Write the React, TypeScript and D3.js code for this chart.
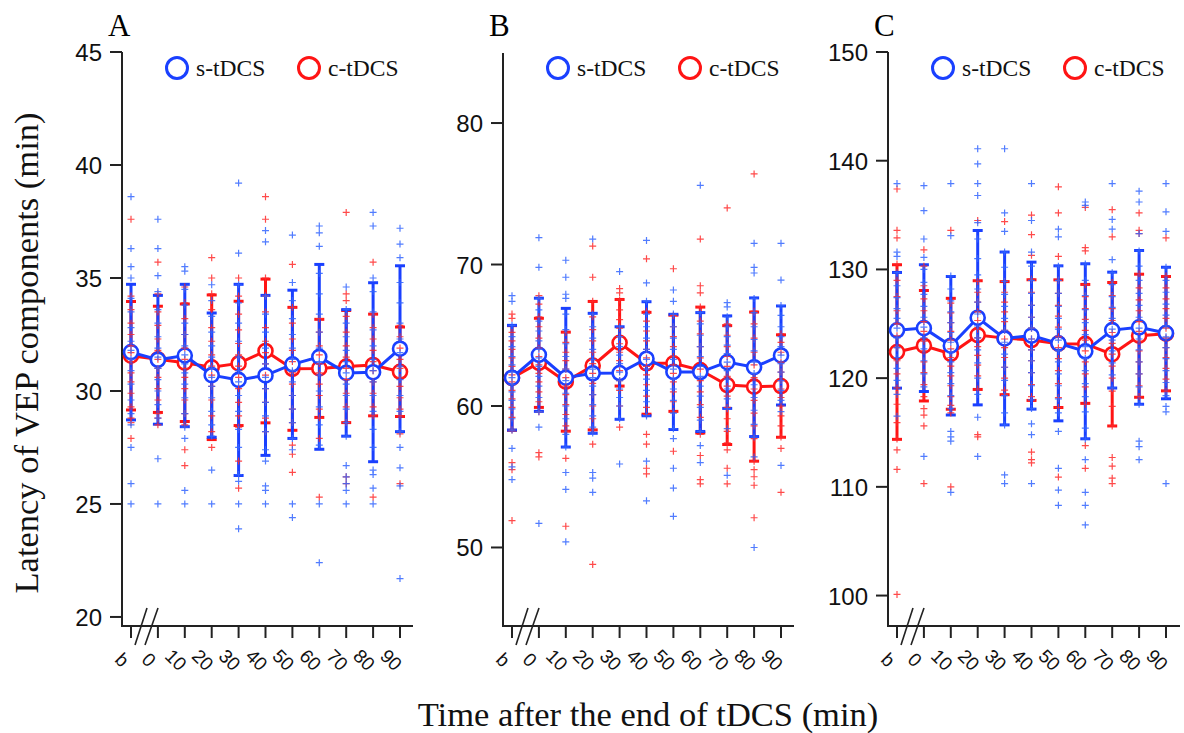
import React from 'react';
import * as d3 from 'd3';

// ---------- data ----------
const timeLabels = ['b', '0', '10', '20', '30', '40', '50', '60', '70', '80', '90'];
const seriesNames = ['s-tDCS', 'c-tDCS'];
const panelLetters = ['A', 'B', 'C'];

const ticksA = [20, 25, 30, 35, 40, 45];
const ticksB = [50, 60, 70, 80];
const ticksC = [100, 110, 120, 130, 140, 150];

const domainA = [19.6, 45];
const domainB = [44.45, 84.95];
const domainC = [97.2, 150];

// Panel A
const meanA_s = [31.72, 31.38, 31.57, 30.70, 30.49, 30.69, 31.18, 31.51, 30.80, 30.83, 31.87];
const sdA_s = [3.00, 2.85, 3.15, 2.75, 4.23, 3.54, 3.28, 4.09, 2.80, 3.96, 3.67];
const meanA_c = [31.56, 31.40, 31.25, 31.05, 31.22, 31.77, 30.98, 31.00, 31.08, 31.15, 30.85];
const sdA_c = [2.40, 2.35, 2.60, 3.20, 2.75, 3.18, 2.72, 2.17, 2.48, 2.25, 1.98];

const pointsA_s = [
  [38.6, 36.3, 35.5, 35.0, 34.1, 33.5, 32.8, 32.2, 31.8, 31.4, 30.9, 30.3, 29.6, 29.0, 28.5, 27.5, 25.9, 25.0],
  [37.6, 36.3, 35.1, 34.4, 33.6, 33.0, 32.4, 31.9, 31.5, 31.0, 30.5, 30.0, 29.4, 28.8, 27.0, 25.0],
  [35.5, 35.3, 34.5, 33.8, 33.0, 32.5, 32.0, 31.6, 31.2, 30.8, 30.3, 29.7, 29.0, 28.4, 27.9, 25.6, 25.0],
  [34.7, 34.0, 33.3, 32.6, 32.0, 31.5, 31.0, 30.6, 30.2, 29.7, 29.1, 28.5, 28.0, 26.5, 25.0],
  [39.2, 36.1, 34.7, 33.9, 33.0, 32.2, 31.5, 30.9, 30.4, 29.8, 29.1, 28.3, 27.5, 26.3, 26.0, 25.0, 23.9],
  [37.1, 36.6, 34.2, 33.4, 32.6, 31.9, 31.2, 30.6, 30.1, 29.5, 28.9, 28.2, 27.4, 26.9, 25.8, 25.6, 25.0],
  [36.9, 34.8, 34.0, 33.2, 32.5, 31.9, 31.4, 30.9, 30.4, 29.8, 29.2, 28.6, 27.9, 27.4, 25.0, 24.4],
  [37.3, 37.0, 36.4, 35.2, 34.3, 33.4, 32.6, 31.9, 31.3, 30.7, 30.0, 29.3, 28.5, 27.6, 25.0, 22.4],
  [34.6, 33.6, 33.0, 32.4, 31.8, 31.3, 30.8, 30.3, 29.8, 29.2, 28.6, 28.0, 26.7, 26.2, 25.9, 25.6, 25.0],
  [37.9, 37.3, 35.0, 34.4, 33.5, 32.7, 32.0, 31.4, 30.9, 30.4, 29.8, 29.1, 28.3, 27.5, 26.5, 26.3, 25.7, 25.0],
  [37.2, 36.5, 35.9, 34.8, 33.9, 33.0, 32.3, 31.7, 31.1, 30.5, 29.8, 29.1, 28.2, 27.5, 26.6, 25.8, 21.7],
];
const pointsA_c = [
  [37.6, 34.2, 33.6, 33.0, 32.5, 32.0, 31.7, 31.3, 30.8, 30.4, 29.9, 29.3, 28.8, 28.6, 27.9],
  [35.7, 34.3, 33.5, 32.9, 32.3, 31.8, 31.4, 31.0, 30.6, 30.1, 29.6, 29.0, 28.8, 28.5],
  [34.6, 33.9, 33.2, 32.5, 31.9, 31.4, 31.0, 30.6, 30.1, 29.6, 29.0, 28.5, 27.4, 26.7],
  [35.9, 35.0, 34.3, 33.6, 32.8, 32.2, 31.6, 31.1, 30.7, 30.2, 29.6, 28.9, 28.2, 27.5],
  [35.0, 34.2, 33.4, 32.7, 32.1, 31.6, 31.1, 30.6, 30.1, 29.5, 28.9, 28.4, 26.9, 25.7],
  [38.6, 37.6, 35.0, 34.2, 33.5, 32.8, 32.2, 31.7, 31.2, 30.7, 30.1, 29.5, 28.8, 28.2],
  [35.6, 33.7, 33.0, 32.3, 31.8, 31.3, 30.8, 30.3, 29.8, 29.2, 28.6, 27.6, 27.2, 26.4],
  [33.2, 32.6, 32.0, 31.6, 31.2, 30.8, 30.3, 29.8, 29.2, 28.8, 27.9, 25.3],
  [37.9, 34.3, 34.0, 33.3, 32.6, 32.0, 31.5, 31.0, 30.5, 29.9, 29.3, 28.6, 26.2, 25.9],
  [35.7, 33.4, 32.8, 32.3, 31.8, 31.3, 30.9, 30.4, 29.9, 29.3, 28.9, 25.3],
  [32.9, 32.4, 31.9, 31.4, 31.0, 30.6, 30.2, 29.7, 29.2, 28.9, 28.1, 25.9],
];

// Panel B
const meanB_s = [62.00, 63.62, 62.00, 62.31, 62.33, 63.34, 62.41, 62.40, 63.10, 62.74, 63.57];
const sdB_s = [3.70, 4.00, 4.90, 4.24, 3.27, 4.03, 4.07, 4.20, 3.27, 4.90, 3.50];
const meanB_c = [61.98, 63.05, 61.72, 62.85, 64.47, 63.02, 63.02, 62.54, 61.48, 61.37, 61.41];
const sdB_c = [3.70, 3.15, 3.50, 4.54, 3.06, 3.60, 3.40, 4.45, 4.20, 5.27, 3.62];

const pointsB_s = [
  [67.8, 67.4, 65.7, 64.9, 64.2, 63.5, 62.9, 62.4, 62.0, 61.5, 61.0, 60.4, 59.8, 59.1, 58.3, 57.0, 55.7, 54.8],
  [71.9, 69.8, 67.6, 66.8, 66.0, 65.3, 64.6, 64.0, 63.4, 62.8, 62.1, 61.4, 60.6, 59.6, 58.5, 51.7],
  [70.3, 69.1, 67.9, 67.6, 66.5, 65.4, 64.4, 63.5, 62.6, 61.8, 60.9, 60.0, 59.1, 58.0, 57.1, 55.3, 54.1, 50.4],
  [71.8, 66.5, 65.6, 64.8, 64.0, 63.3, 62.6, 62.0, 61.4, 60.8, 60.1, 59.3, 58.5, 58.1, 55.3, 54.9, 53.9],
  [69.5, 65.6, 64.9, 64.2, 63.6, 63.0, 62.4, 61.8, 61.2, 60.6, 60.0, 59.1, 55.9],
  [71.7, 68.7, 67.4, 66.5, 65.6, 64.8, 64.0, 63.3, 62.6, 61.9, 61.1, 60.3, 59.3, 56.1, 53.3],
  [68.2, 67.4, 66.5, 65.6, 64.8, 64.0, 63.3, 62.6, 61.9, 61.2, 60.4, 59.5, 58.4, 57.7, 55.6, 54.2, 52.2],
  [75.6, 66.6, 65.8, 65.0, 64.2, 63.5, 62.8, 62.1, 61.4, 60.7, 59.9, 59.0, 58.2, 57.2, 56.0],
  [67.3, 67.0, 66.3, 65.6, 64.9, 64.3, 63.7, 63.1, 62.5, 61.9, 61.2, 60.5, 59.8, 58.4, 55.1],
  [71.5, 69.8, 69.4, 67.6, 66.6, 65.6, 64.7, 63.9, 63.1, 62.3, 61.5, 60.6, 59.7, 58.7, 57.8, 56.4, 50.0],
  [71.5, 68.9, 67.1, 66.4, 65.6, 64.9, 64.2, 63.6, 63.0, 62.4, 61.8, 61.1, 60.4, 59.6, 55.8],
];
const pointsB_c = [
  [66.5, 66.2, 65.2, 64.6, 64.0, 63.4, 62.8, 62.2, 61.7, 61.1, 60.5, 59.9, 59.2, 58.3, 56.0, 55.5, 51.9],
  [67.8, 67.2, 66.3, 65.6, 64.8, 64.1, 63.5, 62.9, 62.3, 61.7, 61.0, 60.3, 59.6, 56.7, 56.4],
  [65.2, 64.5, 63.8, 63.2, 62.6, 62.0, 61.4, 60.8, 60.1, 59.4, 58.6, 58.2, 56.3, 51.5],
  [71.3, 69.1, 67.4, 66.3, 65.4, 64.6, 63.8, 63.0, 62.3, 61.6, 60.8, 60.0, 59.1, 58.3, 57.3, 48.8],
  [68.3, 68.0, 67.5, 66.8, 66.1, 65.5, 64.9, 64.4, 63.8, 63.2, 62.5, 61.8, 61.1, 60.0, 58.5],
  [70.4, 66.7, 66.0, 65.3, 64.6, 64.0, 63.4, 62.8, 62.2, 61.5, 60.7, 59.9, 59.4, 58.0, 57.3, 55.6, 55.2],
  [69.7, 66.4, 65.6, 64.9, 64.2, 63.5, 62.9, 62.3, 61.7, 61.0, 60.3, 59.6, 56.8],
  [71.8, 68.5, 68.0, 67.0, 66.0, 65.1, 64.2, 63.4, 62.6, 61.8, 61.0, 60.1, 59.2, 58.0, 56.5, 54.8, 54.5],
  [74.0, 65.8, 65.0, 64.2, 63.5, 62.8, 62.1, 61.4, 60.7, 59.9, 59.1, 58.2, 57.4, 56.9, 55.6, 54.5],
  [76.4, 66.7, 65.8, 64.8, 63.8, 62.9, 62.0, 61.2, 60.4, 59.5, 58.6, 57.7, 56.1, 55.5, 55.0, 54.4, 52.1],
  [65.1, 64.5, 63.8, 63.1, 62.4, 61.8, 61.2, 60.6, 60.0, 59.3, 58.6, 57.8, 57.0, 53.9],
];

// Panel C
const meanC_s = [124.40, 124.60, 122.98, 125.56, 123.65, 123.91, 123.20, 122.47, 124.42, 124.67, 124.15];
const sdC_s = [5.32, 5.83, 6.37, 8.02, 7.95, 6.76, 7.13, 8.05, 5.33, 7.07, 6.05];
const meanC_c = [122.40, 122.98, 122.24, 123.96, 123.68, 123.50, 123.17, 123.15, 122.20, 123.90, 124.09];
const sdC_c = [8.03, 5.08, 5.10, 5.00, 5.20, 5.55, 5.87, 5.47, 6.60, 5.66, 5.26];

const pointsC_s = [
  [137.9, 131.6, 131.2, 129.7, 128.5, 127.4, 126.4, 125.5, 124.6, 123.7, 122.8, 121.9, 120.9, 119.8, 118.5, 116.5],
  [137.7, 135.4, 132.8, 131.1, 130.0, 128.8, 127.7, 126.6, 125.6, 124.7, 123.7, 122.7, 121.6, 120.4, 119.2, 112.8],
  [137.9, 133.1, 129.4, 128.2, 127.1, 126.1, 125.1, 124.2, 123.3, 122.4, 121.5, 120.5, 119.5, 118.4, 117.2, 115.1, 114.6, 114.2, 109.5],
  [141.1, 139.7, 137.9, 136.8, 134.3, 132.8, 131.0, 129.5, 128.2, 127.0, 125.9, 124.8, 123.7, 122.6, 121.4, 120.0, 118.5, 116.4, 112.8],
  [141.1, 135.2, 133.5, 131.6, 130.2, 128.9, 127.7, 126.6, 125.5, 124.4, 123.3, 122.2, 121.0, 119.8, 118.4, 116.8, 115.7, 111.1, 110.3],
  [137.9, 134.5, 131.6, 130.3, 129.0, 127.8, 126.7, 125.6, 124.6, 123.6, 122.6, 121.6, 120.5, 119.3, 118.0, 117.2, 115.8, 114.8, 110.3],
  [133.7, 133.0, 130.3, 129.0, 127.8, 126.6, 125.5, 124.5, 123.5, 122.5, 121.5, 120.4, 119.3, 118.1, 116.8, 115.1, 111.7, 109.7, 108.3],
  [136.2, 135.9, 130.5, 129.0, 127.6, 126.3, 125.1, 124.0, 122.9, 121.8, 120.7, 119.5, 118.3, 116.9, 115.4, 114.4, 112.5, 109.5, 108.3, 106.5],
  [137.9, 134.6, 133.7, 130.9, 129.7, 128.6, 127.5, 126.5, 125.5, 124.5, 123.5, 122.5, 121.4, 120.3, 119.1],
  [137.2, 136.2, 133.3, 131.7, 130.3, 129.0, 127.8, 126.7, 125.6, 124.6, 123.6, 122.6, 121.5, 120.4, 119.2, 117.6, 114.2, 113.7, 112.5],
  [137.9, 135.3, 133.5, 130.2, 129.0, 127.9, 126.8, 125.8, 124.8, 123.8, 122.8, 121.8, 120.7, 119.6, 118.4, 117.4, 116.9, 110.3],
];
const pointsC_c = [
  [137.4, 133.6, 132.9, 130.5, 129.0, 127.5, 126.2, 125.0, 123.9, 122.8, 121.6, 120.4, 119.1, 117.6, 115.9, 114.4, 113.4, 111.6, 100.1],
  [131.8, 130.3, 128.5, 127.3, 126.2, 125.2, 124.3, 123.4, 122.5, 121.5, 120.5, 119.4, 118.3, 117.2, 116.6, 115.6, 110.3],
  [133.6, 126.9, 126.0, 125.1, 124.3, 123.5, 122.7, 121.9, 121.1, 120.2, 119.3, 118.3, 117.5, 116.8, 110.0],
  [134.5, 128.9, 127.9, 127.0, 126.1, 125.3, 124.5, 123.7, 122.9, 122.1, 121.2, 120.2, 119.0, 114.8, 114.6],
  [134.4, 128.9, 127.9, 127.0, 126.1, 125.2, 124.4, 123.6, 122.8, 121.9, 121.0, 120.0, 118.9, 118.5],
  [135.0, 133.2, 131.3, 129.1, 127.9, 126.7, 125.6, 124.6, 123.6, 122.6, 121.6, 120.5, 119.4, 118.3, 113.2, 112.5, 112.2],
  [137.6, 135.2, 131.2, 129.0, 127.8, 126.7, 125.7, 124.7, 123.8, 122.8, 121.8, 120.7, 119.5, 118.2, 117.3, 110.9],
  [135.7, 132.0, 131.7, 128.6, 127.5, 126.4, 125.4, 124.4, 123.5, 122.5, 121.5, 120.4, 119.2, 117.6, 113.8, 111.7],
  [135.5, 133.0, 128.8, 127.6, 126.4, 125.3, 124.2, 123.2, 122.2, 121.1, 120.0, 118.8, 117.4, 115.6, 112.7, 111.9, 110.8, 110.3],
  [135.2, 133.6, 133.3, 129.6, 128.3, 127.2, 126.2, 125.2, 124.3, 123.4, 122.5, 121.5, 120.4, 119.3, 118.3],
  [132.9, 129.4, 128.3, 127.3, 126.4, 125.5, 124.6, 123.7, 122.8, 121.9, 120.9, 119.9, 118.8],
];

// ---------- styling / layout ----------
const W = 1184;
const H = 733;
const BLUE = '#1a40ff';
const BLUE_PT = '#3366ff';
const RED = '#ff1414';
const RED_PT = '#ff2b2b';
const AXIS = '#222';
const SERIF = '"Liberation Serif", "Times New Roman", serif';
const SANS = '"Liberation Sans", Arial, sans-serif';

const axisBottom = 626;
const panelLayout = [
  { left: 122, right: 413, top: 52 },
  { left: 503, right: 794, top: 53 },
  { left: 888, right: 1180, top: 52 },
];

const panelData = [
  { ticks: ticksA, domain: domainA, mean: [meanA_s, meanA_c], sd: [sdA_s, sdA_c], pts: [pointsA_s, pointsA_c] },
  { ticks: ticksB, domain: domainB, mean: [meanB_s, meanB_c], sd: [sdB_s, sdB_c], pts: [pointsB_s, pointsB_c] },
  { ticks: ticksC, domain: domainC, mean: [meanC_s, meanC_c], sd: [sdC_s, sdC_c], pts: [pointsC_s, pointsC_c] },
];

function Panel({ idx }: { idx: number }) {
  const lay = panelLayout[idx];
  const pd = panelData[idx];
  const x = d3.scalePoint<string>().domain(timeLabels).range([lay.left + 9, lay.left + 9 + 26.9 * 10]);
  const y = d3.scaleLinear().domain(pd.domain).range([axisBottom, lay.top]);
  const colors = [BLUE, RED];
  const ptColors = [BLUE_PT, RED_PT];
  const line = d3
    .line<number>()
    .x((_, i) => x(timeLabels[i]) as number)
    .y((d) => y(d));
  const bx = x('b') as number;
  const order = [1, 0]; // draw c-tDCS first, s-tDCS on top

  return (
    <g>
      {/* panel letter */}
      <text x={lay.left - 14} y={36} fontFamily={SERIF} fontSize={31} fill="#000">
        {panelLetters[idx]}
      </text>
      {/* axes */}
      <line x1={lay.left} x2={lay.left} y1={lay.top} y2={axisBottom} stroke={AXIS} strokeWidth={2} />
      <line x1={lay.left - 1} x2={lay.right} y1={axisBottom} y2={axisBottom} stroke={AXIS} strokeWidth={2} />
      {pd.ticks.map((t) => (
        <g key={t}>
          <line x1={lay.left - 12} x2={lay.left} y1={y(t)} y2={y(t)} stroke={AXIS} strokeWidth={2} />
          <text
            x={lay.left - 20}
            y={y(t) + 9}
            textAnchor="end"
            fontFamily={SANS}
            fontSize={24}
            fill="#111"
          >
            {t}
          </text>
        </g>
      ))}
      {timeLabels.map((lab) => {
        const xx = x(lab) as number;
        return (
          <g key={lab}>
            <line x1={xx} x2={xx} y1={axisBottom} y2={axisBottom + 12} stroke={AXIS} strokeWidth={2} />
            <text
              transform={`translate(${xx - 9},${660}) rotate(45)`}
              textAnchor="middle"
              dominantBaseline="central"
              fontFamily={SANS}
              fontSize={19}
              fill="#111"
            >
              {lab}
            </text>
          </g>
        );
      })}
      {/* axis break */}
      <line x1={bx + 4} y1={645} x2={bx + 16} y2={608} stroke={AXIS} strokeWidth={1.6} />
      <line x1={bx + 14} y1={645} x2={bx + 27} y2={608} stroke={AXIS} strokeWidth={1.6} />
      {/* legend */}
      {seriesNames.map((nm, k) => {
        const cx = lay.left + 55 + k * 132;
        return (
          <g key={nm}>
            <circle cx={cx} cy={68} r={10.5} fill="none" stroke={colors[k]} strokeWidth={3} />
            <text x={cx + 19} y={76} fontFamily={SERIF} fontSize={23.5} fill="#111">
              {nm}
            </text>
          </g>
        );
      })}
      {/* series */}
      {order.map((k) => (
        <g key={k}>
          {pd.mean[k].map((m, i) => {
            const xx = x(timeLabels[i]) as number;
            const s = pd.sd[k][i];
            return (
              <g key={i} stroke={colors[k]} strokeWidth={3}>
                <line x1={xx} x2={xx} y1={y(m - s)} y2={y(m + s)} />
                <line x1={xx - 5} x2={xx + 5} y1={y(m - s)} y2={y(m - s)} />
                <line x1={xx - 5} x2={xx + 5} y1={y(m + s)} y2={y(m + s)} />
              </g>
            );
          })}
          <path d={line(pd.mean[k]) || ''} fill="none" stroke={colors[k]} strokeWidth={3} />
          {pd.mean[k].map((m, i) => (
            <circle
              key={i}
              cx={x(timeLabels[i]) as number}
              cy={y(m)}
              r={7}
              fill="#fff"
              stroke={colors[k]}
              strokeWidth={2.6}
            />
          ))}
        </g>
      ))}
      {/* individual points */}
      {order.map((k) => (
        <g key={'p' + k} stroke={ptColors[k]} strokeWidth={1.2} opacity={0.85}>
          {pd.pts[k].map((col, i) =>
            col.map((v, j) => {
              const xx = x(timeLabels[i]) as number;
              const yy = y(v);
              return <path key={i + '-' + j} d={`M${xx - 3.5},${yy}H${xx + 3.5}M${xx},${yy - 3.5}V${yy + 3.5}`} />;
            })
          )}
        </g>
      ))}
    </g>
  );
}

export default function App() {
  return (
    <svg
      width={W}
      height={H}
      viewBox={`0 0 ${W} ${H}`}
      style={{ position: 'absolute', left: 0, top: 0, background: '#fff' }}
    >
      <rect x={0} y={0} width={W} height={H} fill="#fff" />
      {[0, 1, 2].map((i) => (
        <Panel key={i} idx={i} />
      ))}
      <text
        transform={`translate(38,353) rotate(-90)`}
        textAnchor="middle"
        fontFamily={SERIF}
        fontSize={34.5}
        fill="#111"
      >
        Latency of VEP components (min)
      </text>
      <text x={648} y={726} textAnchor="middle" fontFamily={SERIF} fontSize={34.5} fill="#111">
        Time after the end of tDCS (min)
      </text>
    </svg>
  );
}
